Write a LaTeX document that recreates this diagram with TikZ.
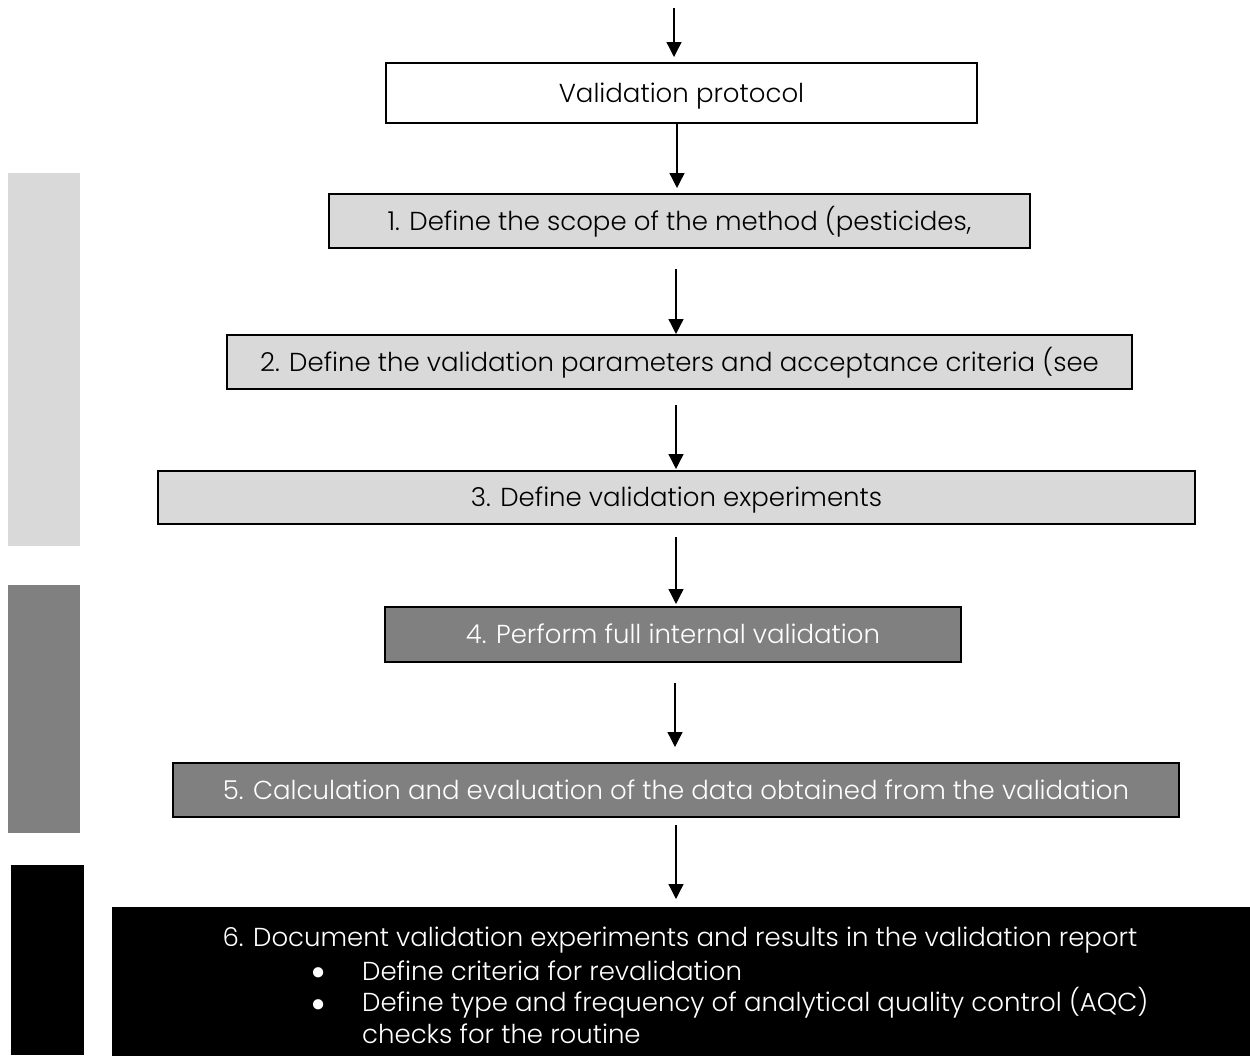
\documentclass[tikz,border=0pt]{standalone}
\usepackage{fontspec}
\setmainfont{Poppins}[UprightFont={* Light}]
\usetikzlibrary{arrows.meta}
\definecolor{lgray}{HTML}{D9D9D9}
\definecolor{mgray}{HTML}{808080}
\begin{document}
\begin{tikzpicture}[x=1pt,y=-1pt,
  txt/.style={font=\fontsize{26}{30}\selectfont},
  box/.style={draw=black, line width=1.4pt, inner sep=0pt, outer sep=0pt, txt, text height=18pt, text depth=0pt},
  lightbox/.style={box, fill=lgray, text=black},
  darkbox/.style={box, fill=mgray, text=white},
  bar/.style={draw=none, inner sep=0pt, outer sep=0pt},
  bulletmark/.style={txt, text=white, anchor=center, inner sep=0pt},
  flow/.style={-{Triangle[width=15pt,length=15pt]}, line width=1.3pt}]
\useasboundingbox (0,0) rectangle (1250,1055);
% side bars
\node[bar, fill=lgray, minimum width=72pt, minimum height=373pt] (bar1) at (44,359.5) {};
\node[bar, fill=mgray, minimum width=72pt, minimum height=248pt] (bar2) at (44,709) {};
\node[bar, fill=black, minimum width=73pt, minimum height=190pt] (bar3) at (47.5,960) {};
% boxes
\node[box, fill=white, minimum width=591pt, minimum height=60pt] (vp) at (681.5,93) {Validation protocol};
\node[lightbox, minimum width=701pt, minimum height=54pt] (b1) at (679.5,221) {1. Define the scope of the method (pesticides,};
\node[lightbox, minimum width=905pt, minimum height=54pt] (b2) at (679.5,362) {2. Define the validation parameters and acceptance criteria (see};
\node[lightbox, minimum width=1037pt, minimum height=53pt] (b3) at (676.5,497.5) {3. Define validation experiments};
\node[darkbox, minimum width=576pt, minimum height=55pt] (b4) at (673,634.5) {4. Perform full internal validation};
\node[darkbox, minimum width=1006pt, minimum height=54pt] (b5) at (676,790) {5. Calculation and evaluation of the data obtained from the validation};
\node[bar, fill=black, minimum width=1148pt, minimum height=158pt, anchor=north west] (b6) at (112,907) {};
% box 6 text
\node[txt, text=white, anchor=base, inner sep=0pt] (t6a) at (680,946) {6. Document validation experiments and results in the validation report};
\node[bulletmark] (d1) at (319,987) {\smash{\scalebox{1.7}{•}}};
\node[txt, text=white, anchor=base west, inner sep=0pt] (t6b) at (362,980) {Define criteria for revalidation};
\node[bulletmark] (d2) at (319,1019) {\smash{\scalebox{1.7}{•}}};
\node[txt, text=white, anchor=base west, inner sep=0pt] (t6c) at (362,1011) {Define type and frequency of analytical quality control (AQC)};
\node[txt, text=white, anchor=base west, inner sep=0pt] (t6d) at (362,1043) {checks for the routine};
% arrows
\coordinate (s0) at (674,8);
\coordinate (s2) at (676,269);
\coordinate (s3) at (676,405);
\coordinate (s4) at (676,537);
\coordinate (s5) at (675,683);
\coordinate (e5) at (675,747);
\coordinate (s6) at (676,825);
\coordinate (e6) at (676,899);
\draw[flow, shorten >=6pt] (s0) -- (s0 |- vp.north);
\draw[flow, shorten >=6pt] (vp.south -| 677,0) -- (b1.north -| 677,0);
\draw[flow, shorten >=1pt] (s2) -- (s2 |- b2.north);
\draw[flow, shorten >=2pt] (s3) -- (s3 |- b3.north);
\draw[flow, shorten >=3pt] (s4) -- (s4 |- b4.north);
\draw[flow] (s5) -- (e5);
\draw[flow] (s6) -- (e6);
\end{tikzpicture}
\end{document}
